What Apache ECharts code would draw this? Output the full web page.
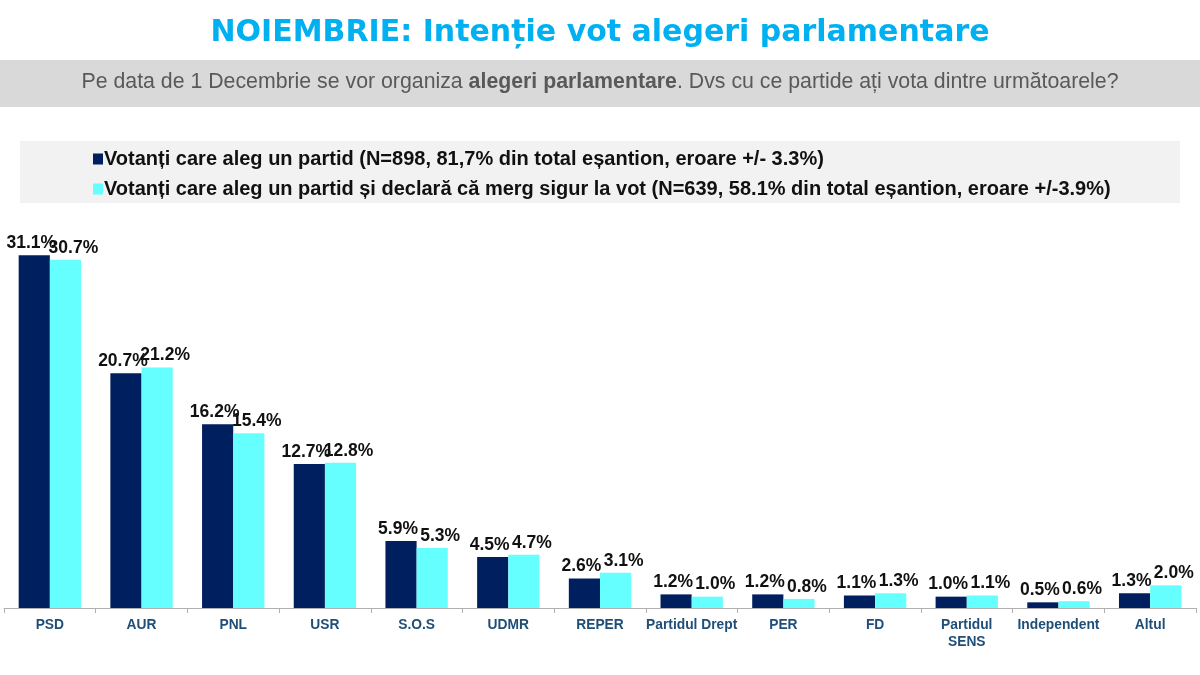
<!DOCTYPE html>
<html><head><meta charset="utf-8">
<script src="https://cdn.jsdelivr.net/npm/echarts@6/dist/echarts.min.js"></script>
<style>html,body{margin:0;padding:0;background:#fff}#c{width:1200px;height:675px}</style>
</head><body><div id="c"></div>
<script>
const categories = ['PSD','AUR','PNL','USR','S.O.S','UDMR','REPER','Partidul Drept','PER','FD','Partidul\nSENS','Independent','Altul'];
const seriesNames = [
  'Votanți care aleg un partid (N=898, 81,7% din total eșantion, eroare +/- 3.3%)',
  'Votanți care aleg un partid și declară că merg sigur la vot (N=639, 58.1% din total eșantion, eroare +/-3.9%)'
];
const votersAll = [31.1,20.7,16.2,12.7,5.9,4.5,2.6,1.2,1.2,1.1,1.0,0.5,1.3];
const votersSure = [30.7,21.2,15.4,12.8,5.3,4.7,3.1,1.0,0.8,1.3,1.1,0.6,2.0];
const titleText = 'NOIEMBRIE: Intenție vot alegeri parlamentare';

const chart = echarts.init(document.getElementById('c'), null, {renderer:'canvas'});
const mkLabel = dx => ({show:true, position:'top', distance:3, offset:[dx,0], formatter: p => p.value.toFixed(1) + '%',
  color:'#111', fontFamily:'Liberation Sans, Arial', fontWeight:'bold', fontSize:17.5});
const subFont = 'Liberation Sans, Arial';
chart.setOption({
  animation:false,
  backgroundColor:'#fff',
  title:{text:titleText, left:'center', top:13,
    textStyle:{color:'#00b0f0', fontSize:30, fontWeight:'bold', fontFamily:'DejaVu Sans, Verdana'}},
  graphic:[
    {type:'rect', left:0, top:60, shape:{width:1200, height:47}, style:{fill:'#d9d9d9'}, z:-1},
    {type:'text', left:'center', top:72, style:{
      rich:{n:{fontSize:21.3, fill:'#595959', fontFamily:subFont},
            b:{fontSize:21.3, fill:'#595959', fontWeight:'bold', fontFamily:subFont}},
      text:'{n|Pe data de 1 Decembrie se vor organiza }{b|alegeri parlamentare}{n|. Dvs cu ce partide ați vota dintre următoarele?}'}},
    {type:'rect', left:20, top:141, shape:{width:1160, height:62}, style:{fill:'#f2f2f2'}, z:-1}
  ],
  legend:{orient:'vertical', left:88, top:144, itemGap:10, itemWidth:10, itemHeight:11, icon:'rect',
    textStyle:{fontFamily:'Liberation Sans, Arial', fontWeight:'bold', fontSize:20, color:'#111', padding:[0,0,0,-4]},
    data:seriesNames},
  grid:{left:4, right:4, top:211, bottom:67, containLabel:false},
  xAxis:{type:'category', data:categories, boundaryGap:true,
    axisLine:{lineStyle:{color:'#b0b0b0', width:1}},
    axisTick:{show:true, length:5, lineStyle:{color:'#b0b0b0'}},
    axisLabel:{color:'#1f4e79', fontWeight:'bold', fontSize:13.8, fontFamily:'Liberation Sans, Arial', margin:9, interval:0, lineHeight:17}},
  yAxis:{type:'value', min:0, max:35, show:false, splitLine:{show:false}},
  series:[
    {name:seriesNames[0], type:'bar', data:votersAll, barGap:'0%', barCategoryGap:'32%', itemStyle:{color:'#001f5f'}, label:mkLabel(-3)},
    {name:seriesNames[1], type:'bar', data:votersSure, itemStyle:{color:'#66ffff'}, label:mkLabel(8)}
  ]
});
</script></body></html>
